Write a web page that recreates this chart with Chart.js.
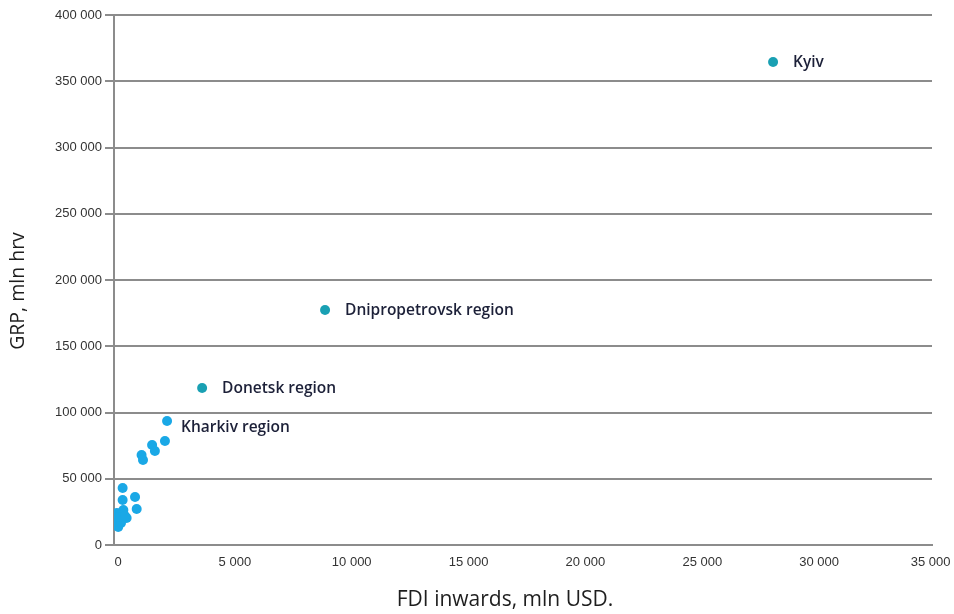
<!DOCTYPE html>
<html>
<head>
<meta charset="utf-8">
<script src="https://cdn.jsdelivr.net/npm/chart.js@4/dist/chart.umd.min.js"></script>
<style>
  html, body { margin: 0; padding: 0; background: #ffffff; }
  #wrap { width: 954px; height: 614px; position: relative; }
</style>
</head>
<body>
<div id="wrap"><canvas id="c" width="954" height="614"></canvas></div>
<script>
// ---- Data ----
const regionLabels = ["Kyiv", "Dnipropetrovsk region", "Donetsk region", "Kharkiv region",
  "", "", "", "", "",
  "", "", "", "", "", "", "", "", "", "", "", "", "", ""];
const fdiInwards = [28200, 9030, 3770, 2270,
  2180, 1630, 1750, 1180, 1240,
  370, 900, 370, 970, 400, 540, 120, 40, 180, 260, 130, 300, 210, 470];
const grpValues = [364500, 177400, 118500, 93600,
  78500, 75500, 70900, 67900, 64200,
  43000, 36200, 34000, 27200, 26400, 20400, 24200, 18900, 13600, 22600, 17400, 16600, 21100, 21900];
const highlighted = ["Kyiv", "Dnipropetrovsk region", "Donetsk region"];
const xTitle = "FDI inwards, mln USD.";
const yTitle = "GRP, mln hrv";

function fmt(v) {
  return String(v).replace(/\B(?=(\d{3})+(?!\d))/g, " ");
}

const points = fdiInwards.map((x, i) => ({ x: x, y: grpValues[i], name: regionLabels[i] }));
const TEAL = "#19a0b3";
const BLUE = "#1aa8e6";
const colors = regionLabels.map(n => highlighted.includes(n) ? TEAL : BLUE);

const labelOffsets = { "Kharkiv region": [14, 7] };

const labelPlugin = {
  id: "pointLabels",
  afterDatasetsDraw(chart) {
    const ctx = chart.ctx;
    const meta = chart.getDatasetMeta(0);
    ctx.save();
    ctx.font = "600 15.5px 'Open Sans'";
    ctx.fillStyle = "#1c2038";
    ctx.textBaseline = "middle";
    ctx.textAlign = "left";
    meta.data.forEach((el, i) => {
      const name = regionLabels[i];
      if (!name) return;
      const off = labelOffsets[name] || [20, 1];
      ctx.fillText(name, el.x + off[0], el.y + off[1]);
    });
    ctx.restore();
  }
};

const titlePlugin = {
  id: "axisTitles",
  afterDraw(chart) {
    const ctx = chart.ctx;
    ctx.save();
    ctx.fillStyle = "#1e1e1e";
    ctx.font = "500 21px 'Open Sans'";
    ctx.textAlign = "center";
    ctx.textBaseline = "middle";
    ctx.fillText(xTitle, 505, 600);
    ctx.translate(18, 291);
    ctx.rotate(-Math.PI / 2);
    ctx.font = "500 19.5px 'Open Sans'";
    ctx.fillText(yTitle, 0, 0);
    ctx.restore();
  }
};

new Chart(document.getElementById("c"), {
  type: "scatter",
  data: {
    datasets: [{
      data: points,
      backgroundColor: colors,
      borderColor: colors,
      pointRadius: 5,
      pointHoverRadius: 5,
      borderWidth: 0
    }]
  },
  options: {
    responsive: false,
    animation: false,
    devicePixelRatio: 1,
    layout: { padding: { top: 15, right: 22, left: 0, bottom: 0 } },
    plugins: {
      legend: { display: false },
      tooltip: { enabled: false }
    },
    scales: {
      x: {
        type: "linear",
        min: 0,
        max: 35000,
        grid: { display: false },
        border: { display: true, color: "#8c8c8c", width: 2 },
        ticks: {
          stepSize: 5000,
          padding: 2,
          labelOffset: 4,
          maxRotation: 0,
          color: "#333333",
          font: { family: "'Liberation Sans', Arial", size: 13 },
          callback: v => v === 35000 ? fmt(v) + "\u00a0\u00a0\u00a0" : fmt(v)
        },
        afterFit(scale) {
          scale.height = 69;
          scale.paddingLeft = 0;
          scale.paddingRight = 0;
        }
      },
      y: {
        type: "linear",
        min: 0,
        max: 400000,
        grid: {
          color: "#8c8c8c",
          lineWidth: 2,
          drawTicks: true,
          tickLength: 9,
          tickColor: "#8c8c8c"
        },
        border: { display: true, color: "#8c8c8c", width: 2 },
        ticks: {
          stepSize: 50000,
          padding: 3,
          color: "#333333",
          font: { family: "'Liberation Sans', Arial", size: 13 },
          callback: v => fmt(v)
        },
        afterFit(scale) {
          scale.width = 114;
          scale.paddingTop = 0;
          scale.paddingBottom = 0;
        }
      }
    }
  },
  plugins: [labelPlugin, titlePlugin]
});
</script>
</body>
</html>
